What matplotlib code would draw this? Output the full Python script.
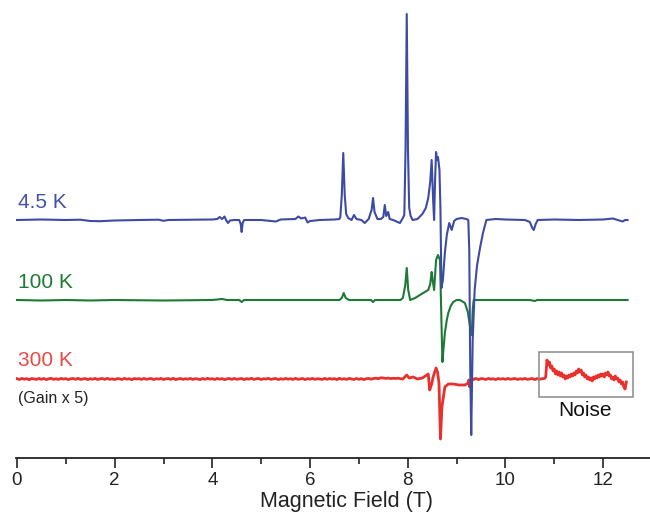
import numpy as np
import matplotlib
matplotlib.use("Agg")
import matplotlib.pyplot as plt
from matplotlib.patches import Rectangle
from matplotlib.ticker import MultipleLocator

plt.rcParams['font.family'] = ['Liberation Sans', 'DejaVu Sans']

# ---------------- spectra (field in T, signal in arbitrary units) ----------------
field_45K = [0.0, 0.5, 1.0, 1.3, 1.5, 1.7, 2.0, 2.5, 2.9, 3.0, 3.1, 3.6, 4.0, 4.1, 4.15,
             4.2, 4.25, 4.28, 4.32, 4.36, 4.45, 4.55, 4.58, 4.6, 4.62, 4.65, 5.0, 5.3,
             5.4, 5.7, 5.76, 5.82, 5.9, 5.95, 6.0, 6.2, 6.5, 6.6, 6.62, 6.65, 6.68, 6.71,
             6.74, 6.78, 6.85, 6.9, 6.95, 7.05, 7.12, 7.2, 7.26, 7.29, 7.32, 7.38, 7.45,
             7.5, 7.53, 7.56, 7.6, 7.63, 7.7, 7.84, 7.9, 7.93, 7.955, 7.98, 8.005, 8.03,
             8.06, 8.1, 8.2, 8.3, 8.37, 8.42, 8.46, 8.49, 8.52, 8.54, 8.56, 8.58, 8.60,
             8.62, 8.65, 8.67, 8.69, 8.72, 8.76, 8.8, 8.85, 8.9, 8.95, 9.0, 9.1, 9.2,
             9.24, 9.26, 9.28, 9.30, 9.33, 9.37, 9.42, 9.48, 9.54, 9.61, 9.8, 10.0, 10.4,
             10.5, 10.55, 10.58, 10.62, 10.66, 11.0, 11.5, 12.0, 12.2, 12.3, 12.4, 12.45,
             12.5]
signal_45K = [0, 0.5, 0, 0.3, -1, -1.2, -0.5, 0, 0.3, -0.8, 0, 0.3, 0.5, 1, 3,
              1, 3.5, 0, -3, -0.5, 0, 0, -4, -12, -3, 0, 0, -1.5,
              0.5, 1, 3.5, 1.5, 2.5, -2.5, -1, 0, 0.5, 1, 3, 25, 67, 25,
              6, 2, 0, 5, 1, 0, -3, 1, 10, 22, 8, 1, 1,
              3, 15, 4, 8, 1, 0, -3, 2, 5, 70, 206, 70, 12,
              4, 0, 1, 6, 12, 22, 38, 60, 20, 0, 40, 68, 60,
              63, 50, 10, -68, -60, -33, -15, -3, -10, -1, 1, 2, 1,
              0, -30, -150, -215, -120, -70, -45, -28, -13, 0, 1, 0.5, 0,
              -2, -8, -10, -4, 0, 0.5, 0, 0.5, 1.5, 0, -1.5, 0,
              0]

field_100K = [0.0, 0.5, 1.0, 1.5, 2.0, 3.0, 4.0, 4.2, 4.3, 4.55, 4.6, 4.65, 5.5, 6.6,
              6.65, 6.69, 6.73, 6.8, 7.25, 7.29, 7.33, 7.85, 7.9, 7.95, 7.98, 8.01, 8.05,
              8.15, 8.25, 8.35, 8.42, 8.46, 8.49, 8.51, 8.54, 8.56, 8.58, 8.62, 8.66,
              8.68, 8.71, 8.73, 8.76, 8.8, 8.83, 8.88, 8.93, 9.0, 9.07, 9.17, 9.23, 9.27,
              9.31, 9.33, 9.35, 9.6, 10.0, 10.5, 10.6, 10.65, 11.0, 12.5]
signal_100K = [0, -0.5, 0, -0.5, 0, -0.5, 0, 1, 0, 0, -2, 0, 0, 0,
               2, 7, 2, 0, 0, -2, 0, 0, 2, 15, 32, 10, 0,
               2, 5, 8, 10, 16, 28, 20, 10, 25, 40, 45, 40,
               0, -62, -50, -33, -20, -13, -6, -2, 0, 0, -3, -12, -25,
               -35, -10, 0, 0, 0, 0, -1, 0, 0, 0]

# 300 K trace (gain x 5): noisy flat stretches sampled every 0.05 T,
# the resonance region, and the high-field noise window sampled every 0.025 T
base_300K_low = [0.3, -0.5, 0.6, -0.2, 0.4, -0.7, 0.5, 0.1, -0.4, 0.6,
                 -0.3, 0.5, -0.6, 0.2, 0.7, -0.4, 0.3, -0.5, 0.6, -0.1,
                 0.4, -0.6, 0.2, 0.5, -0.3, 0.7, -0.5, 0.1, 0.4, -0.6,
                 0.3, -0.2, 0.6, -0.5, 0.2, 0.5, -0.4, 0.7, -0.3, 0.1,
                 -0.6, 0.4, 0.2, -0.5, 0.6, -0.2, 0.3, -0.7, 0.5, 0.0,
                 0.4, -0.4, 0.6, -0.3, 0.2, 0.5, -0.6, 0.3, -0.1, 0.6,
                 -0.5, 0.2, 0.4, -0.3, 0.7, -0.6, 0.1, 0.5, -0.4, 0.3,
                 -0.2, 0.6, -0.5, 0.4, 0.0, -0.6, 0.5, -0.3, 0.7, -0.1,
                 0.3, -0.5, 0.6, -0.2, 0.4, -0.7, 0.2, 0.5, -0.4, 0.6,
                 -0.3, 0.1, 0.5, -0.6, 0.4, -0.2, 0.7, -0.4, 0.2, 0.5,
                 -0.5, 0.3, -0.1, 0.6, -0.4, 0.2, 0.5, -0.6, 0.3, -0.3,
                 0.6, -0.2, 0.4, -0.5, 0.7, -0.3, 0.1, 0.5, -0.6, 0.4,
                 -0.2, 0.6, -0.4, 0.3, 0.0, -0.5, 0.6, -0.3, 0.5, -0.1,
                 0.4, -0.6, 0.7, -0.2, 0.3, -0.4, 0.6, 0.1, -0.5, 0.5,
                 -0.3, 0.4, -0.6, 0.2, 0.6, -0.2, 0.5, 0.8, 0.3, 1.2,
                 1.0, 0.6, 0.9, 0.4, 0.7, 0.5, 0.8, 0.3]
field_300K_res = [7.9, 7.98, 8.03, 8.11, 8.2, 8.3, 8.42, 8.45, 8.49, 8.52, 8.58, 8.61,
                  8.64, 8.67, 8.70, 8.73, 8.76, 8.83, 8.93, 9.05, 9.17, 9.24, 9.25, 9.27,
                  9.3, 9.33]
signal_300K_res = [0, 4, 1, 2, 0, 1, 5, -11, -5, 2, 11, 7,
                   -4, -60, -28, -18, -8, -5, -5, -6, -6, -4, -1, -8,
                   -2, 0]
base_300K_mid = [-0.3, 0.5, -0.6, 0.4, 0.2, -0.5, 0.6, -0.2, 0.3, -0.6, 0.5, -0.1,
                 0.4, -0.4, 0.6, -0.3, 0.2, 0.5, -0.5, 0.3, -0.2, 0.6, -0.4, 0.1,
                 0.5, -0.6, 0.4, -0.2, 0.3]
noise_300K_high = [0.5, 2, 19, 14, 17, 11, 13, 8, 10, 5, 8, 4, 7, 3, 6, 2, 4, 0, 3, 1,
                   4, 2, 5, 3, 6, 4, 8, 6, 10, 7, 9, 4, 6, 2, 4, 0, 2, -1, 1, -2,
                   2, 0, 3, 1, 4, 2, 5, 3, 5, 2, 6, 4, 7, 3, 4, 0, 2, -1, 3, 0,
                   1, -3, -1, -5, -3, -8, -10, -3]

field_300K = np.concatenate([
    np.arange(len(base_300K_low)) * 0.05,
    field_300K_res,
    9.35 + np.arange(len(base_300K_mid)) * 0.05,
    10.8 + np.arange(len(noise_300K_high)) * 0.025,
])
signal_300K = np.concatenate([base_300K_low, signal_300K_res, base_300K_mid,
                              noise_300K_high])

labels = ["4.5 K", "100 K", "300 K"]
colors = ["#3d4ba3", "#1c7a36", "#e8302c"]
text_colors = ["#4552a8", "#1f7a32", "#e84a44"]
offsets = [238, 158, 79]

# ---------------- figure ----------------
fig = plt.figure(figsize=(6.5, 5.14), dpi=100)
ax = fig.add_axes([16 / 650, 1 - 458 / 514, 634 / 650, 458 / 514])

traces = [(field_45K, signal_45K), (field_100K, signal_100K), (field_300K, signal_300K)]
widths = [1.5, 1.5, 2.0]
zorders = [4, 3, 2]
for (fx, sy), c, off, lw, z in zip(traces, colors, offsets, widths, zorders):
    ax.plot(fx, np.asarray(sy) + off, color=c, lw=lw, zorder=z, solid_joinstyle='round')

for lab, tc, off in zip(labels, text_colors, offsets):
    ax.text(0.02, off + 18, lab, color=tc, fontsize=15, ha='left', va='center')
ax.text(0.02, offsets[2] - 19, "(Gain x 5)", color='#222222', fontsize=11.5,
        ha='left', va='center')

# highlighted noise window
ax.add_patch(Rectangle((10.69, 61), 12.61 - 10.69, 45, fill=False,
                       edgecolor='#8a8a8a', lw=1.1, zorder=5))
ax.text(11.63, 48, "Noise", color='#111111', fontsize=15, ha='center', va='center')

ax.set_xlim(-0.02, 12.96)
ax.set_ylim(0, 458)
for s in ['top', 'right', 'left']:
    ax.spines[s].set_visible(False)
ax.spines['bottom'].set_linewidth(1.3)
ax.spines['bottom'].set_color('#222222')
ax.set_yticks([])
ax.xaxis.set_major_locator(MultipleLocator(2))
ax.xaxis.set_minor_locator(MultipleLocator(1))
ax.tick_params(axis='x', which='major', direction='out', length=7, width=1.2,
               labelsize=13.5, colors='#222222', pad=3)
ax.tick_params(axis='x', which='minor', direction='out', length=4, width=1.2,
               colors='#222222')
ax.set_xlabel("Magnetic Field (T)", fontsize=15.5, color='#222222')
ax.xaxis.set_label_coords(0.522, -0.073)
ax.patch.set_alpha(0)

fig.savefig("out.png", dpi=100)
